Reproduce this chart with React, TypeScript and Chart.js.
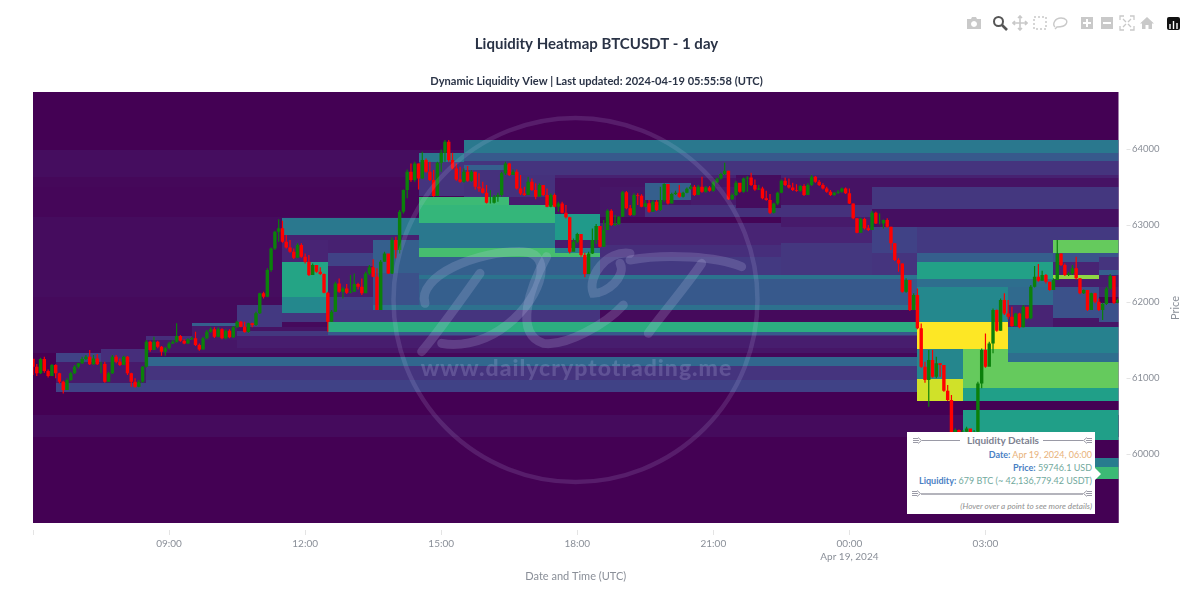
import React, { useEffect, useRef } from "react";
import { Chart, registerables } from "chart.js";

Chart.register(...registerables);

const FONT = "Lato, 'Noto Sans', sans-serif";
const START_MINUTE = 360;
const CANDLE_MINUTES = 5;
const X_MAX = 1796;
const Y_MIN = 59095;
const Y_MAX = 64748;

const candleClose = [61145,61058,61246,61088,61023,61167,61058,60948,60839,60970,61058,61145,61189,61246,61276,61176,61254,61176,61180,60948,61058,61276,61211,61167,61276,61058,60948,60883,60948,61145,61473,61364,61473,61408,61342,61386,61451,61473,61547,61486,61451,61504,61517,61429,61372,61517,61604,61635,61539,61635,61517,61617,61530,61661,61735,61670,61600,61714,61692,61845,62107,62063,62413,62697,62916,62960,62785,62710,62654,62575,62741,62588,
62522,62347,62478,62391,62360,62115,61735,61866,62238,62129,62172,62115,62129,62229,62194,62107,62369,62448,62325,61888,62522,62631,62369,62806,62675,63178,63462,63702,63593,63812,63615,63856,63702,63593,63383,63821,63952,64096,63856,63746,63602,63571,63702,63584,63702,63506,63484,63427,63296,63296,63375,63396,63681,63812,63659,63702,63484,63418,63396,63571,63462,63375,63528,63396,63243,63396,63243,63287,63165,63104,62653,62784,62885,62609,62360,62631,62806,
62990,62719,62938,63191,63003,63016,63113,63432,63222,63134,63397,63388,63244,63288,63178,63309,63200,63331,63541,63287,63410,63427,63375,63427,63480,63506,63397,63506,63441,63497,63454,63563,63615,63672,63716,63340,63397,63559,63441,63615,63628,63528,63471,63484,63353,63331,63165,63287,63427,63585,63528,63497,63462,63454,63515,63397,63528,63637,63572,63528,63484,63441,63397,63427,63441,63484,63419,63287,63091,62903,63082,62960,62938,63165,
63025,63025,63069,62981,62763,62544,62500,62129,62282,61888,62085,61648,61145,60970,61232,61014,61189,61167,60830,60708,60271,60314,60271,60292,60336,60271,60292,60926,61364,61145,61451,61888,61617,62019,61844,61801,61678,61844,61661,61932,61779,62194,62325,62273,62347,62260,62151,62282,62631,62478,62347,62369,62435,62304,62107,62151,61888,62107,61998,61888,61967,62172,62334,61984,62019];

const candleHigh = [61233,61180,61263,61276,61110,61180,61176,61066,60962,60992,61080,61167,61198,61276,61298,61364,61298,61311,61211,61211,61080,61298,61298,61254,61289,61285,61066,60992,60970,61154,61495,61486,61539,61486,61416,61408,61473,61495,61714,61560,61504,61517,61539,61604,61451,61539,61626,61661,61661,61661,61648,61635,61635,61679,61748,61744,61735,61722,61722,61867,62116,62129,62435,62710,62929,63078,63060,62872,62807,62697,62763,62763,
62631,62609,62500,62465,62448,62369,62129,61888,62260,62303,62194,62229,62347,62369,62247,62303,62391,62478,62553,62435,62544,62653,62623,62841,62850,63200,63471,63733,63812,63834,63812,63965,63877,63834,63724,63834,63995,64118,64118,63952,63812,63768,63746,63777,63724,63702,63681,63571,63528,63462,63396,63427,63702,63834,63821,63733,63733,63659,63506,63637,63615,63550,63550,63528,63484,63418,63418,63309,63309,63265,63112,62828,62902,62885,62640,62653,62959,
63016,62938,63069,63209,63209,63134,63121,63449,63449,63266,63419,63419,63406,63331,63331,63331,63331,63506,63550,63541,63427,63454,63528,63441,63497,63528,63528,63528,63637,63515,63515,63585,63628,63690,63821,63716,63419,63585,63550,63628,63646,63690,63602,63528,63506,63454,63410,63296,63441,63602,63628,63615,63559,63537,63528,63537,63550,63659,63646,63594,63550,63506,63462,63441,63462,63497,63497,63484,63287,63091,63099,63099,63003,63187,
63178,63156,63077,63091,62981,62763,62566,62500,62304,62151,62107,62172,61713,61211,61364,61364,61276,61189,61167,60904,60773,60336,60323,60314,60358,60306,60314,60948,61385,61582,61473,61910,61897,62041,62107,62019,61932,61853,61853,61954,61888,62216,62465,62492,62404,62360,62260,62304,62806,62631,62500,62391,62478,62588,62304,62159,62151,62116,62116,62041,61984,62194,62360,62334,62041];

const candleLow = [61036,61023,61049,61066,61005,61027,60992,60926,60795,60883,60962,61049,61123,61180,61233,61167,61167,61167,61058,60935,60948,61049,61189,61154,61167,61036,60883,60870,60874,60935,61136,61342,61364,61386,61289,61289,61372,61442,61460,61473,61438,61442,61495,61416,61355,61372,61504,61591,61521,61530,61504,61504,61517,61521,61648,61661,61591,61591,61661,61679,61836,62041,62055,62391,62675,62785,62772,62697,62640,62557,62566,62575,
62500,62334,62360,62378,62347,62107,61604,61735,61866,62115,62041,62098,62107,62129,62159,62085,62194,62347,62317,61888,61976,62522,62360,62360,62566,62631,63156,63353,63571,63571,63471,63615,63689,63580,63375,63383,63702,63834,63834,63733,63584,63558,63558,63571,63571,63471,63440,63418,63287,63287,63287,63309,63375,63659,63646,63659,63471,63396,63383,63462,63449,63340,63453,63383,63235,63235,63235,63178,63156,63090,62631,62741,62762,62588,62317,62391,62623,
62754,62710,62719,62938,62990,62990,63003,63113,63209,63121,63121,63266,63235,63235,63165,63178,63187,63191,63309,63274,63287,63397,63362,63366,63419,63471,63384,63397,63427,63427,63441,63441,63550,63602,63659,63331,63331,63384,63427,63427,63441,63515,63454,63462,63340,63322,63148,63156,63266,63419,63515,63484,63449,63441,63441,63384,63397,63515,63559,63515,63471,63427,63384,63384,63410,63427,63410,63279,63078,62894,62903,62946,62925,62946,
63016,63012,62959,62968,62675,62531,62391,62116,62116,61875,61888,61635,61132,60935,60620,61001,60992,61014,60817,60695,60227,60052,60008,60052,60096,60139,60139,60271,60861,61132,61189,61320,61604,61617,61823,61766,61670,61678,61648,61661,61766,61766,62185,62260,62273,62238,62142,62151,62282,62465,62334,62334,62347,62290,62094,62098,61875,61888,61976,61875,61757,61954,62151,61967,61976];

const FIRST_OPEN = 61250;

// startMinute, endMinute, highPrice, lowPrice, liquidity (0-1)
const liquidityBands = [
  [360,1796,64748,59095,0],
  [360,1530,63987,63633,0.035],[360,1530,63633,63502,0.02],[360,1530,63502,63108,0.015],[360,1530,63108,62282,0.03],[360,1530,62282,62059,0.035],[360,1530,62059,61325,0.025],
  [360,1796,60511,60223,0.028],
  [390,450,61325,61207,0.2],[390,450,61207,60931,0.07],[390,1530,60931,60813,0.2],
  [450,510,61377,61207,0.13],[450,510,61207,60931,0.07],
  [510,570,61548,61495,0.13],[510,1530,61495,61325,0.06],[510,1530,61325,61272,0.02],
  [510,1530,61272,61154,0.33],[510,1530,61154,60970,0.15],[510,1530,60970,60813,0.2],
  [570,630,61718,61679,0.3],[570,630,61679,61495,0.07],
  [630,690,61954,61666,0.17],[630,1530,61666,61613,0.05],[630,1530,61613,61548,0.16],[630,1530,61548,61390,0.08],
  [690,870,63095,62872,0.4],[690,870,62872,62807,0.09],
  [690,750,62807,62518,0.1],[690,750,62518,62059,0.58],[690,750,62059,61849,0.47],[690,750,61849,61731,0.16],
  [750,810,62807,62636,0.09],[750,810,62636,62466,0.2],[750,810,62466,62059,0.08],[750,810,62059,61888,0.18],[750,1110,61888,61731,0.15],
  [810,870,62807,62374,0.3],[810,870,62374,61954,0.25],
  [810,1110,61954,61888,0.37],
  [750,1530,61731,61600,0.62],[750,1530,61600,61561,0.28],
  [870,930,63948,63830,0.4],[870,930,63830,63384,0.15],
  [930,1796,64118,63948,0.4],[930,1796,63948,63843,0.28],[930,1796,63843,63659,0.15],[930,1796,63659,63620,0.09],[930,1796,63620,63502,0.05],
  [930,990,63790,63725,0.3],[930,990,63725,63370,0.14],[990,1050,63659,63370,0.14],[990,1050,63370,63266,0.08],
  [1050,1110,63502,63148,0.05],
  [870,990,63370,63266,0.68],[870,1050,63266,63030,0.66],[870,1050,63030,62702,0.4],[870,1050,62702,62584,0.7],
  [1050,1110,63148,62807,0.54],[1050,1110,62807,62702,0.08],[1050,1110,62702,62636,0.42],[1050,1110,62636,62584,0.7],
  [870,1110,62584,62348,0.3],[870,1530,62348,62295,0.38],[870,1110,62295,61954,0.3],
  [1110,1530,63030,62741,0.1],[1110,1530,62741,62584,0.13],[1110,1530,62584,62348,0.17],[1110,1530,63108,63030,0.01],[1110,1530,63502,63108,0.06],
  [1110,1530,62295,61954,0.28],[1110,1530,61954,61888,0.37],
  [1170,1230,63554,63331,0.3],[1170,1470,63266,63108,0.14],
  [1230,1290,63502,63266,0.07],[1290,1350,63659,63226,0.03],[1350,1470,63502,63266,0.05],
  [1350,1470,63108,62977,0.07],[1350,1470,62977,62767,0.1],[1350,1470,62767,62348,0.16],
  [1470,1796,63502,63213,0.16],[1470,1796,63213,62977,0.04],[1470,1796,62977,62636,0.17],
  [1470,1530,62977,62636,0.2],[1470,1530,62636,62348,0.15],
  [1530,1710,62636,62518,0.3],[1530,1710,62518,62295,0.57],[1530,1710,62295,62190,0.36],[1530,1650,62190,61731,0.47],
  [1530,1650,61731,61377,1],
  [1530,1590,61377,60984,0.46],[1530,1590,60984,60695,0.93],[1530,1590,60695,60577,0],
  [1590,1650,61377,61207,0.76],[1590,1796,61207,60866,0.76],[1590,1796,60866,60695,0.56],[1590,1796,60695,60577,0],
  [1590,1796,60577,60184,0.56],[1590,1796,60184,59947,0],[1590,1796,59947,59829,0.42],[1590,1796,59829,59672,0.68],[1590,1796,59672,59095,0],
  [1650,1710,62190,61954,0.34],[1650,1710,61954,61666,0.1],[1650,1796,61666,61325,0.44],[1650,1796,61325,61207,0.36],
  [1710,1796,62807,62636,0.76],
  [1710,1770,62636,62518,0.26],[1710,1770,62518,62348,0.1],[1710,1770,62348,62295,0.83],[1710,1770,62295,62190,0.08],[1710,1770,62190,61784,0.25],[1710,1770,61784,61666,0.06],
  [1770,1796,62636,62584,0.26],[1770,1796,62584,62413,0.15],[1770,1796,62413,62348,0.3],[1770,1796,62348,62190,0.08],[1770,1796,62190,62059,0.1],[1770,1796,62059,61980,0],[1770,1796,61980,61731,0.25],[1770,1796,61731,61666,0.06],
];

const viridisStops = ["#440154","#482878","#3e4989","#31688e","#26828e","#1f9e89","#35b779","#6ece58","#b5de2b","#fde725"];

const yTickValues = [60000, 61000, 62000, 63000, 64000];
const xTickValues = [360, 540, 720, 900, 1080, 1260, 1440, 1620];
const dateTickMinute = 1440;
const dateTickLabel = "Apr 19, 2024";

const chartTitle = "Liquidity Heatmap BTCUSDT - 1 day";
const chartSubtitle = "Dynamic Liquidity View | Last updated: 2024-04-19 05:55:58 (UTC)";
const xAxisTitle = "Date and Time (UTC)";
const yAxisTitle = "Price";
const watermarkText = "www.dailycryptotrading.me";

const tooltipDate = "Apr 19, 2024, 06:00";
const tooltipPrice = "59746.1 USD";
const tooltipLiquidity = "679 BTC (~ 42,136,779.42 USDT)";

function viridis(z: number) {
  const p = Math.max(0, Math.min(1, z)) * (viridisStops.length - 1);
  const i = Math.min(viridisStops.length - 2, Math.floor(p));
  const f = p - i;
  const c = (s: string, k: number) => parseInt(s.slice(k, k + 2), 16);
  const m = (k: number) => Math.round(c(viridisStops[i], k) * (1 - f) + c(viridisStops[i + 1], k) * f);
  return `rgb(${m(1)},${m(3)},${m(5)})`;
}

function formatTick(v: number) {
  const m = ((v % 1440) + 1440) % 1440;
  const hh = String(Math.floor(m / 60)).padStart(2, "0");
  const mm = String(m % 60).padStart(2, "0");
  return `${hh}:${mm}`;
}

const heatPlugin = {
  id: "liquidityHeat",
  beforeDatasetsDraw(chart: any) {
    const { ctx, chartArea: a, scales } = chart;
    const ds = chart.data.datasets.find((d: any) => d.label === "Liquidity");
    ctx.save();
    ctx.beginPath();
    ctx.rect(a.left, a.top, a.right - a.left, a.bottom - a.top);
    ctx.clip();
    for (const c of ds.data) {
      const x0 = Math.round(scales.x.getPixelForValue(c.start));
      const x1 = Math.round(scales.x.getPixelForValue(c.end));
      const y0 = Math.round(scales.y.getPixelForValue(c.high));
      const y1 = Math.round(scales.y.getPixelForValue(c.low));
      ctx.fillStyle = viridis(c.z);
      ctx.fillRect(x0, y0, x1 - x0, y1 - y0);
    }
    ctx.restore();
  },
};

const decorPlugin = {
  id: "decor",
  afterDatasetsDraw(chart: any) {
    const { ctx } = chart;
    const cx = 575.5, cy = 300, r = 182;
    ctx.save();
    ctx.strokeStyle = "rgba(205,205,245,0.14)";
    ctx.lineWidth = 4.5;
    ctx.beginPath();
    ctx.arc(cx, cy, r, 0, Math.PI * 2);
    ctx.stroke();
    const P = (x: number, y: number): [number, number] => [400 + x / 3, 90 + y / 3];
    const paths: [number, number][][] = [
      [[75,640],[50,560],[230,480],[370,485],[470,490],[420,640],[300,720],[240,760],[170,770],[125,760]],
      [[240,550],[190,620],[120,720],[65,785]],
      [[440,500],[390,590],[340,730],[430,760],[500,770],[620,700],[670,645]],
      [[690,490],[620,480],[560,560],[580,610],[620,610],[680,560],[660,520]],
      [[690,510],[800,490],[950,500],[1025,530]],
      [[905,520],[850,600],[780,680],[745,730]],
    ];
    ctx.strokeStyle = "rgba(205,205,245,0.19)";
    ctx.lineWidth = 9;
    ctx.lineCap = "round";
    for (const p of paths) {
      ctx.beginPath();
      ctx.moveTo(...P(p[0][0], p[0][1]));
      for (let i = 1; i + 2 < p.length; i += 3) {
        ctx.bezierCurveTo(...P(p[i][0], p[i][1]), ...P(p[i + 1][0], p[i + 1][1]), ...P(p[i + 2][0], p[i + 2][1]));
      }
      ctx.stroke();
    }
    ctx.fillStyle = "rgba(205,205,245,0.2)";
    ctx.font = `900 23px ${FONT}`;
    ctx.textAlign = "center";
    ctx.textBaseline = "middle";
    (ctx as any).letterSpacing = "1px";
    ctx.fillText(watermarkText, 576.5, 369);
    ctx.restore();
  },
  afterDraw(chart: any) {
    const { ctx, chartArea: a, scales } = chart;
    ctx.save();
    ctx.strokeStyle = "#e4e4e4";
    ctx.lineWidth = 1;
    for (const t of scales.x.ticks) {
      const x = Math.round(scales.x.getPixelForValue(t.value)) + 0.5;
      ctx.beginPath();
      ctx.moveTo(x, a.bottom + 7);
      ctx.lineTo(x, a.bottom + 12);
      ctx.stroke();
    }
    for (const t of scales.y.ticks) {
      const y = Math.round(scales.y.getPixelForValue(t.value)) + 0.5;
      ctx.beginPath();
      ctx.moveTo(a.right + 8, y);
      ctx.lineTo(a.right + 12, y);
      ctx.stroke();
    }
    ctx.translate(1175, 308);
    ctx.rotate(-Math.PI / 2);
    ctx.fillStyle = "#8a8f98";
    ctx.font = `11px ${FONT}`;
    ctx.textAlign = "center";
    ctx.textBaseline = "middle";
    ctx.fillText(yAxisTitle, 0, 0);
    ctx.restore();
  },
};

const icon = "#c9c9c9";
function Modebar() {
  const S = (x: number, children: React.ReactNode) => (
    <svg width={16} height={16} viewBox="0 0 16 16" style={{ position: "absolute", left: x - 8, top: 15 }}>{children}</svg>
  );
  return (
    <>
      {S(974, <path fill={icon} d="M1 4h4l1-2h4l1 2h4v10H1z M8 6a3 3 0 1 0 .01 0z" fillRule="evenodd" />)}
      {S(1000, <g fill="none" stroke="#555" strokeWidth="2"><circle cx="6.5" cy="6.5" r="4.5" /><path d="M10 10l5 5" strokeWidth="2.6" /></g>)}
      {S(1020, <path stroke={icon} strokeWidth="1.6" fill="none" d="M8 1v14M1 8h14M6 3l2-2 2 2M6 13l2 2 2-2M3 6L1 8l2 2M13 6l2 2-2 2" />)}
      {S(1040, <rect x="2" y="2" width="12" height="12" fill="none" stroke={icon} strokeWidth="1.5" strokeDasharray="2 2" />)}
      {S(1060, <path fill="none" stroke={icon} strokeWidth="1.4" d="M3 12c-3-3 0-9 6-9 5 0 7 3 5 6s-6 3-9 3l-2 2" />)}
      {S(1087, <path fill={icon} fillRule="evenodd" d="M2 2h12v12H2z M7 4v3H4v2h3v3h2V9h3V7H9V4z" />)}
      {S(1107, <path fill={icon} fillRule="evenodd" d="M2 2h12v12H2z M4 7v2h8V7z" />)}
      {S(1127, <path stroke={icon} strokeWidth="1.3" fill="none" d="M1 5V1h4M11 1h4v4M15 11v4h-4M5 15H1v-4M4 4l3 3M12 4L9 7M12 12L9 9M4 12l3-3" />)}
      {S(1147, <path fill={icon} d="M8 2L1 8.5h2V14h3.5v-4h3v4H13V8.5h2z" />)}
      <div style={{ position: "absolute", left: 1167, top: 17, width: 13, height: 13, background: "#111", borderRadius: 2 }}>
        <svg width={13} height={13} viewBox="0 0 13 13"><path stroke="#fff" strokeWidth="1.4" d="M3 11V6M6.5 11V3M10 11V5" /></svg>
      </div>
    </>
  );
}

function Arrow({ left, top, flip }: { left: number; top: number; flip?: boolean }) {
  return (
    <svg width={9} height={7} viewBox="0 0 9 7" style={{ position: "absolute", left, top, transform: flip ? "scaleX(-1)" : undefined }}>
      <path d="M0 1.5h5M0 3.5h6M0 5.5h5M5 .5l3.5 3-3.5 3" fill="none" stroke="#9a9aa6" strokeWidth="1" />
    </svg>
  );
}

function Tooltip() {
  const blue = "#4a7fc4";
  const line = (top: number, label: string, value: string, color: string) => (
    <div style={{ position: "absolute", right: 3, top, whiteSpace: "nowrap", lineHeight: "13px", fontSize: 9 }}>
      <b style={{ color: blue }}>{label}</b> <span style={{ color }}>{value}</span>
    </div>
  );
  return (
    <div style={{ position: "absolute", left: 907, top: 432, width: 188, height: 82, background: "#fff", fontFamily: FONT, fontSize: 10 }}>
      <div style={{ position: "absolute", left: 188, top: 36, width: 0, height: 0, borderTop: "6px solid transparent", borderBottom: "6px solid transparent", borderLeft: "6px solid #fff" }} />
      <Arrow left={6} top={5} />
      <div style={{ position: "absolute", left: 15, width: 38, top: 8, height: 1, background: "#9a9aa6" }} />
      <div style={{ position: "absolute", left: 136, width: 40, top: 8, height: 1, background: "#9a9aa6" }} />
      <Arrow left={176} top={5} flip />
      <div style={{ position: "absolute", left: 4, right: 0, top: 2, textAlign: "center", lineHeight: "13px", color: "#7d8190", fontWeight: 700 }}>Liquidity Details</div>
      {line(15.5, "Date:", tooltipDate, "#e8b27a")}
      {line(28.5, "Price:", tooltipPrice, "#72a99d")}
      {line(41.5, "Liquidity:", tooltipLiquidity, "#72a99d")}
      <Arrow left={5} top={58} />
      <div style={{ position: "absolute", left: 14, width: 162, top: 60.5, height: 2, background: "#b4b4bc" }} />
      <Arrow left={176} top={58} flip />
      <div style={{ position: "absolute", right: 3, top: 68, fontSize: 8.2, lineHeight: "12px", fontStyle: "italic", color: "#8f8f8f", whiteSpace: "nowrap" }}>(Hover over a point to see more details)</div>
    </div>
  );
}

export default function App() {
  const ref = useRef<HTMLCanvasElement | null>(null);
  useEffect(() => {
    const opens = candleClose.map((_, i) => (i === 0 ? FIRST_OPEN : candleClose[i - 1]));
    const colors = candleClose.map((c, i) => (c >= opens[i] ? "#0b800b" : "#ff0000"));
    const xs = candleClose.map((_, i) => START_MINUTE + i * CANDLE_MINUTES);
    const chart = new Chart(ref.current as HTMLCanvasElement, {
      type: "bar",
      data: {
        datasets: [
          {
            label: "Body",
            data: candleClose.map((c, i) => ({ x: xs[i], y: [opens[i], c] })),
            backgroundColor: colors,
            borderWidth: 0,
            barThickness: 3.4,
            grouped: false,
            inflateAmount: 0,
          },
          {
            label: "Wick",
            data: candleClose.map((_, i) => ({ x: xs[i], y: [candleLow[i], candleHigh[i]] })),
            backgroundColor: colors,
            borderWidth: 0,
            barThickness: 1.2,
            grouped: false,
            inflateAmount: 0,
          },
          {
            type: "scatter",
            label: "Liquidity",
            data: liquidityBands.map(([start, end, high, low, z]) => ({ x: start, y: low, start, end, high, low, z })),
            pointRadius: 0,
            showLine: false,
          },
        ] as any,
      },
      options: {
        responsive: false,
        animation: false,
        events: [],
        layout: { padding: { left: 0, right: 7, top: 0, bottom: 0 } },
        plugins: {
          legend: { display: false },
          tooltip: { enabled: false },
          title: {
            display: true,
            text: chartTitle,
            color: "#2a3346",
            font: { family: FONT, size: 15, weight: "bold", lineHeight: 1.2 },
            padding: { top: 35.4, bottom: 0 },
          },
          subtitle: {
            display: true,
            text: chartSubtitle,
            color: "#2a3346",
            font: { family: FONT, size: 11.1, weight: "bold", lineHeight: 1.2 },
            padding: { top: 21.6, bottom: 3.7 },
          },
        },
        scales: {
          x: {
            type: "linear",
            min: START_MINUTE,
            max: X_MAX,
            offset: false,
            grid: { display: false },
            border: { display: false },
            afterBuildTicks: (s: any) => { s.ticks = xTickValues.map((value) => ({ value })); },
            ticks: {
              maxRotation: 0,
              autoSkip: false,
              color: "#8a8f98",
              padding: 7,
              font: { family: FONT, size: 10, lineHeight: 1.25 },
              callback: (v: any) => {
                if (v === START_MINUTE) return "";
                return v === dateTickMinute ? [formatTick(v), dateTickLabel] : formatTick(v);
              },
            },
            title: {
              display: true,
              text: xAxisTitle,
              color: "#8a8f98",
              font: { family: FONT, size: 11 },
              padding: { top: 0, bottom: 20 },
            },
            afterFit: (s: any) => { s.height = 80; },
          },
          y: {
            type: "linear",
            position: "right",
            min: Y_MIN,
            max: Y_MAX,
            grid: { display: false },
            border: { display: false },
            afterBuildTicks: (s: any) => { s.ticks = yTickValues.map((value) => ({ value })); },
            ticks: {
              color: "#8a8f98",
              padding: 5.5,
              font: { family: FONT, size: 9.5 },
              callback: (v: any) => String(v),
            },
            afterFit: (s: any) => { s.width = 74.5; },
          },
          yLeft: {
            type: "linear",
            position: "left",
            display: true,
            grid: { display: false },
            border: { display: false },
            ticks: { display: false },
            afterFit: (s: any) => { s.width = 33; },
          },
        },
      } as any,
      plugins: [heatPlugin, decorPlugin],
    });
    return () => chart.destroy();
  }, []);
  return (
    <div style={{ position: "fixed", left: 0, top: 0, width: 1200, height: 603, background: "#fff", overflow: "hidden" }}>
      <canvas ref={ref} width={1200} height={603} style={{ display: "block" }} />
      <Modebar />
      <Tooltip />
    </div>
  );
}
